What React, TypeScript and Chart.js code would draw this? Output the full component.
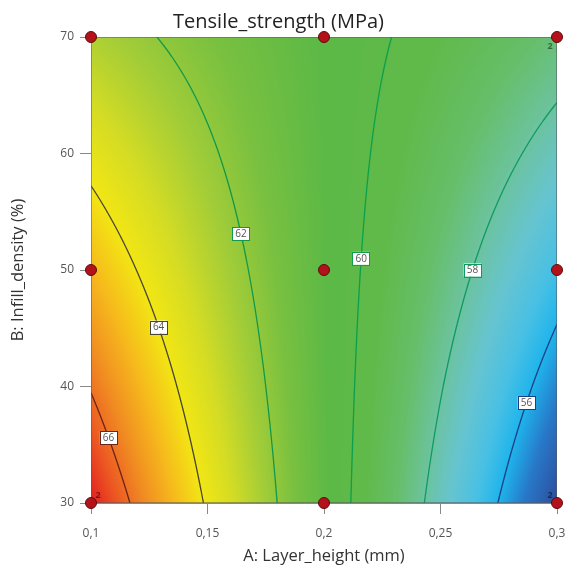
import { useEffect, useRef } from 'react';
import { Chart, registerables } from 'chart.js';

Chart.register(...registerables);

// ---- data ----
const layerHeight = [0.1, 0.15, 0.2, 0.25, 0.3]; // A (mm)
const infillDensity = [30, 40, 50, 60, 70]; // B (%)
// Tensile strength (MPa) on the grid, one row per infill density, columns = layer height
const strengthAt30 = [67.06, 63.89, 60.73, 57.56, 54.39];
const strengthAt40 = [65.94, 63.31, 60.69, 58.06, 55.44];
const strengthAt50 = [64.81, 62.73, 60.65, 58.57, 56.49];
const strengthAt60 = [63.69, 62.15, 60.61, 59.08, 57.54];
const strengthAt70 = [62.56, 61.57, 60.58, 59.58, 58.59];
const contourLevels = [56, 58, 60, 62, 64, 66];
const designA = [0.1, 0.1, 0.1, 0.2, 0.2, 0.2, 0.3, 0.3, 0.3];
const designB = [30, 50, 70, 30, 50, 70, 30, 50, 70];
const replicates = [2, 1, 1, 1, 1, 1, 2, 1, 2];
const xTickLabels = ['0,1', '0,15', '0,2', '0,25', '0,3'];
const yTickLabels = ['30', '40', '50', '60', '70'];

// ---- styles ----
const FONT = "'Open Sans', 'Noto Sans', sans-serif";
const colorStops: [number, number[]][] = [
  [54.4, [46, 76, 156]],
  [55.3, [40, 120, 200]],
  [56.0, [30, 180, 236]],
  [56.6, [72, 192, 228]],
  [57.3, [102, 196, 208]],
  [58.0, [108, 195, 160]],
  [58.8, [102, 190, 104]],
  [59.6, [96, 186, 74]],
  [60.6, [92, 185, 70]],
  [61.5, [120, 192, 64]],
  [62.3, [160, 204, 56]],
  [63.2, [212, 220, 36]],
  [64.0, [242, 230, 20]],
  [64.8, [246, 184, 28]],
  [65.6, [240, 138, 34]],
  [66.3, [236, 90, 34]],
  [67.0, [228, 34, 34]],
];
const lineColors: Record<number, string> = {
  56: '#1c3f86',
  58: '#0f9a62',
  60: '#0d9f4a',
  62: '#12984a',
  64: '#4a4630',
  66: '#6a2418',
};
const labelAnchorB: Record<number, number> = { 56: 38.6, 58: 50, 60: 51, 62: 53.1, 64: 45.1, 66: 35.6 };

const grid = [strengthAt30, strengthAt40, strengthAt50, strengthAt60, strengthAt70];

function findCell(arr: number[], v: number) {
  let i = 0;
  while (i < arr.length - 2 && v > arr[i + 1]) i++;
  const t = (v - arr[i]) / (arr[i + 1] - arr[i]);
  return { i, t: Math.max(0, Math.min(1, t)) };
}

function strength(a: number, b: number) {
  const cx = findCell(layerHeight, a);
  const cy = findCell(infillDensity, b);
  const r0 = grid[cy.i];
  const r1 = grid[cy.i + 1];
  const v0 = r0[cx.i] + (r0[cx.i + 1] - r0[cx.i]) * cx.t;
  const v1 = r1[cx.i] + (r1[cx.i + 1] - r1[cx.i]) * cx.t;
  return v0 + (v1 - v0) * cy.t;
}

function colorFor(v: number): number[] {
  if (v <= colorStops[0][0]) return colorStops[0][1];
  for (let k = 0; k < colorStops.length - 1; k++) {
    const [v0, c0] = colorStops[k];
    const [v1, c1] = colorStops[k + 1];
    if (v <= v1) {
      const t = (v - v0) / (v1 - v0);
      return [0, 1, 2].map((j) => c0[j] + (c1[j] - c0[j]) * t);
    }
  }
  return colorStops[colorStops.length - 1][1];
}

const contourPlugin = {
  id: 'contourSurface',
  beforeDatasetsDraw(chart: any) {
    const { ctx, chartArea, scales } = chart;
    const xs = scales.x;
    const ys = scales.y;
    const left = Math.round(chartArea.left);
    const top = Math.round(chartArea.top);
    const w = Math.round(chartArea.right) - left;
    const h = Math.round(chartArea.bottom) - top;

    // heat map
    const off = document.createElement('canvas');
    off.width = w;
    off.height = h;
    const octx = off.getContext('2d')!;
    const img = octx.createImageData(w, h);
    for (let j = 0; j < h; j++) {
      const b = ys.getValueForPixel(top + j + 0.5);
      for (let i = 0; i < w; i++) {
        const a = xs.getValueForPixel(left + i + 0.5);
        const c = colorFor(strength(a, b));
        const p = (j * w + i) * 4;
        img.data[p] = c[0];
        img.data[p + 1] = c[1];
        img.data[p + 2] = c[2];
        img.data[p + 3] = 255;
      }
    }
    octx.putImageData(img, 0, 0);
    ctx.save();
    ctx.drawImage(off, left, top);

    // contour lines (marching squares on a fine sampling of the surface)
    const step = 2;
    const nx = Math.ceil(w / step) + 1;
    const ny = Math.ceil(h / step) + 1;
    const px = (i: number) => Math.min(left + i * step, left + w);
    const py = (j: number) => Math.min(top + j * step, top + h);
    const vals: number[][] = [];
    for (let j = 0; j < ny; j++) {
      const row: number[] = [];
      const b = ys.getValueForPixel(py(j));
      for (let i = 0; i < nx; i++) row.push(strength(xs.getValueForPixel(px(i)), b));
      vals.push(row);
    }
    ctx.beginPath();
    ctx.rect(chartArea.left, chartArea.top, chartArea.right - chartArea.left, chartArea.bottom - chartArea.top);
    ctx.clip();
    for (const L of contourLevels) {
      ctx.beginPath();
      for (let j = 0; j < ny - 1; j++) {
        for (let i = 0; i < nx - 1; i++) {
          const v00 = vals[j][i], v10 = vals[j][i + 1], v11 = vals[j + 1][i + 1], v01 = vals[j + 1][i];
          const x0 = px(i), x1 = px(i + 1), y0 = py(j), y1 = py(j + 1);
          const pts: [number, number][] = [];
          if ((v00 - L) * (v10 - L) < 0) pts.push([x0 + ((L - v00) / (v10 - v00)) * (x1 - x0), y0]);
          if ((v10 - L) * (v11 - L) < 0) pts.push([x1, y0 + ((L - v10) / (v11 - v10)) * (y1 - y0)]);
          if ((v01 - L) * (v11 - L) < 0) pts.push([x0 + ((L - v01) / (v11 - v01)) * (x1 - x0), y1]);
          if ((v00 - L) * (v01 - L) < 0) pts.push([x0, y0 + ((L - v00) / (v01 - v00)) * (y1 - y0)]);
          for (let k = 0; k + 1 < pts.length; k += 2) {
            ctx.moveTo(pts[k][0], pts[k][1]);
            ctx.lineTo(pts[k + 1][0], pts[k + 1][1]);
          }
        }
      }
      ctx.strokeStyle = lineColors[L];
      ctx.lineWidth = 1.3;
      ctx.stroke();
    }

    // contour labels
    ctx.font = `10px ${FONT}`;
    ctx.textAlign = 'center';
    ctx.textBaseline = 'middle';
    for (const L of contourLevels) {
      const b = labelAnchorB[L];
      let lo = layerHeight[0];
      let hi = layerHeight[layerHeight.length - 1];
      for (let it = 0; it < 40; it++) {
        const mid = (lo + hi) / 2;
        if ((strength(lo, b) - L) * (strength(mid, b) - L) <= 0) hi = mid;
        else lo = mid;
      }
      const cx = xs.getPixelForValue((lo + hi) / 2);
      const cy = ys.getPixelForValue(b);
      const text = String(L);
      const tw = ctx.measureText(text).width + 6;
      const th = 13;
      ctx.fillStyle = '#ffffff';
      ctx.fillRect(cx - tw / 2, cy - th / 2, tw, th);
      ctx.strokeStyle = lineColors[L];
      ctx.lineWidth = 1;
      ctx.strokeRect(Math.round(cx - tw / 2) + 0.5, Math.round(cy - th / 2) + 0.5, Math.round(tw), th);
      ctx.fillStyle = '#555555';
      ctx.fillText(text, cx, cy + 0.5);
    }
    ctx.restore();

    // frame
    ctx.save();
    ctx.strokeStyle = 'rgba(90,90,90,0.55)';
    ctx.lineWidth = 1;
    ctx.strokeRect(left + 0.5, top + 0.5, w - 1, h - 1);
    ctx.restore();
  },
  afterDatasetsDraw(chart: any) {
    const { ctx, scales } = chart;
    ctx.save();
    ctx.font = `bold 9px ${FONT}`;
    ctx.textAlign = 'center';
    ctx.textBaseline = 'middle';
    designA.forEach((a, i) => {
      if (replicates[i] < 2) return;
      const b = designB[i];
      const x = scales.x.getPixelForValue(a);
      const y = scales.y.getPixelForValue(b);
      const dx = a <= layerHeight[0] ? 7 : -7;
      const dy = b <= infillDensity[0] ? -8 : 9;
      const c = colorFor(strength(a, b)).map((v) => Math.round(v * 0.55));
      ctx.fillStyle = `rgb(${c[0]},${c[1]},${c[2]})`;
      ctx.fillText(String(replicates[i]), x + dx, y + dy);
    });
    ctx.restore();
  },
};

export default function App() {
  const ref = useRef<HTMLCanvasElement>(null);
  useEffect(() => {
    document.body.style.margin = '0';
    const chart = new Chart(ref.current!, {
      type: 'scatter',
      data: {
        datasets: [
          {
            label: 'Design points',
            data: designA.map((a, i) => ({ x: a, y: designB[i] })),
            pointRadius: 5.5,
            pointBackgroundColor: '#b3121b',
            pointBorderColor: '#5e0a0a',
            pointBorderWidth: 1,
            clip: false,
          } as any,
        ],
      },
      options: {
        animation: false,
        responsive: false,
        layout: { padding: { left: 0, right: 9, top: 0, bottom: 0 } },
        plugins: {
          legend: { display: false },
          tooltip: { enabled: false },
          title: {
            display: true,
            text: 'Tensile_strength (MPa)',
            color: '#222',
            font: { family: FONT, size: 20, weight: 'normal' },
            padding: { top: 10, bottom: 3 },
          },
        },
        scales: {
          x: {
            type: 'linear',
            min: 0.1,
            max: 0.3,
            afterFit: (s: any) => {
              s.height = 71;
              s.paddingLeft = 0;
              s.paddingRight = 0;
            },
            ticks: {
              stepSize: 0.05,
              color: '#555',
              font: { family: FONT, size: 12 },
              padding: 12,
              maxRotation: 0,
              callback: (_v: any, i: number) => xTickLabels[i],
            },
            grid: { drawOnChartArea: false, tickLength: 11, color: '#888' },
            border: { display: true, color: '#888' },
            title: {
              display: true,
              text: 'A: Layer_height (mm)',
              color: '#333',
              font: { family: FONT, size: 16.5 },
              padding: { top: 0, bottom: 8 },
            },
          },
          y: {
            type: 'linear',
            min: 30,
            max: 70,
            afterFit: (s: any) => {
              s.width = 91;
            },
            ticks: {
              stepSize: 10,
              color: '#555',
              font: { family: FONT, size: 12 },
              padding: 6,
              callback: (_v: any, i: number) => yTickLabels[i],
            },
            grid: { drawOnChartArea: false, tickLength: 11, color: '#888' },
            border: { display: true, color: '#888' },
            title: {
              display: true,
              text: 'B: Infill_density (%)',
              color: '#333',
              font: { family: FONT, size: 16.5 },
              padding: { top: 8, bottom: 0 },
            },
          },
        },
      } as any,
      plugins: [contourPlugin],
    });
    return () => chart.destroy();
  }, []);
  return (
    <div style={{ width: 566, height: 574 }}>
      <canvas ref={ref} width={566} height={574} style={{ display: 'block' }} />
    </div>
  );
}
